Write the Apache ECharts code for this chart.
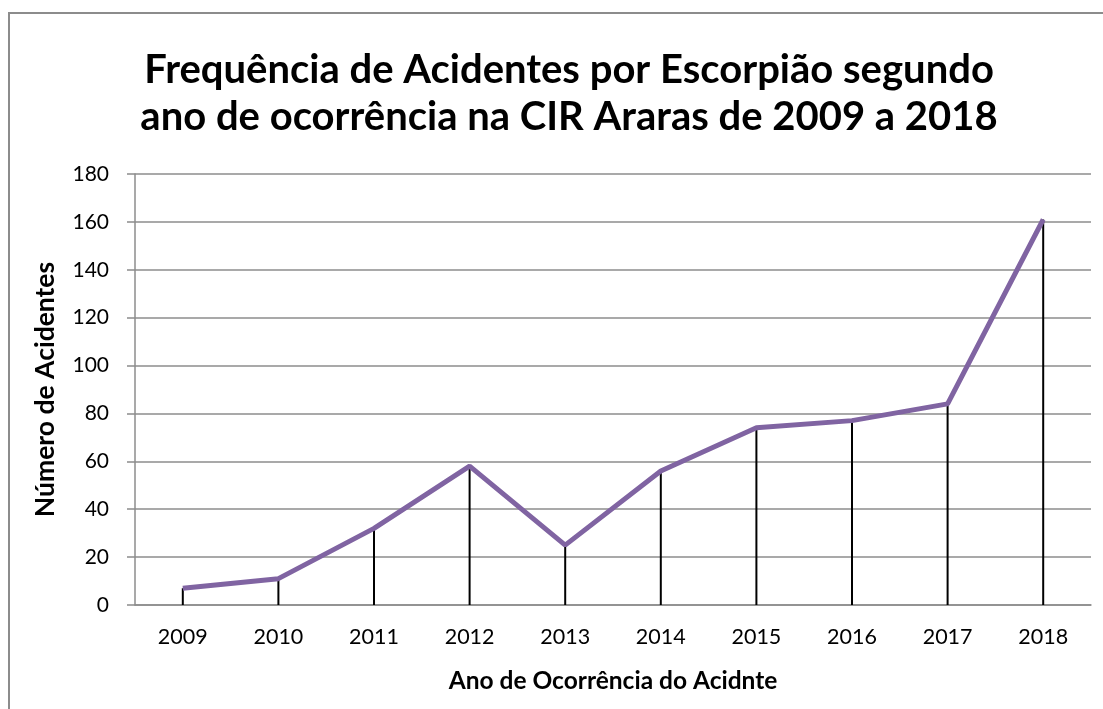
<!DOCTYPE html>
<html>
<head>
<meta charset="utf-8">
<script src="https://cdn.jsdelivr.net/npm/echarts@6/dist/echarts.min.js"></script>
<style>
html,body{margin:0;padding:0;background:#fff;}
#main{width:1103px;height:709px;}
</style>
</head>
<body>
<div id="main"></div>
<script>
const years = ['2009','2010','2011','2012','2013','2014','2015','2016','2017','2018'];
const accidents = [7, 11, 32, 58, 25, 56, 74, 77, 84, 161];
const yTicks = {min: 0, max: 180, interval: 20};
const titleText = 'Frequência de Acidentes por Escorpião segundo\nano de ocorrência na CIR Araras de 2009 a 2018';
const xName = 'Ano de Ocorrência do Acidnte';
const yName = 'Número de Acidentes';

const font = 'Lato, "Open Sans", sans-serif';
const chart = echarts.init(document.getElementById('main'), null, {renderer: 'canvas'});
chart.setOption({
  backgroundColor: '#ffffff',
  animation: false,
  title: {
    text: titleText,
    left: 564,
    textAlign: 'center',
    top: 42,
    textStyle: {fontFamily: font, fontWeight: 'bold', fontSize: 40, lineHeight: 47, color: '#000'}
  },
  graphic: [{
    type: 'rect',
    shape: {x: 9, y: 13, width: 1200, height: 800},
    style: {fill: 'none', stroke: '#8c8c8c', lineWidth: 2},
    silent: true
  }],
  grid: {left: 135, right: 12, top: 174, bottom: 104},
  xAxis: {
    type: 'category',
    data: years,
    boundaryGap: true,
    name: xName,
    nameLocation: 'middle',
    nameGap: 64,
    nameTextStyle: {fontFamily: font, fontWeight: 'bold', fontSize: 24.5, color: '#000'},
    axisLine: {lineStyle: {color: '#8c8c8c', width: 1.5}},
    axisTick: {show: false},
    axisLabel: {fontFamily: font, fontSize: 21.5, color: '#000', margin: 21},
    splitLine: {show: false}
  },
  yAxis: {
    type: 'value',
    min: yTicks.min, max: yTicks.max, interval: yTicks.interval,
    name: yName,
    nameLocation: 'middle',
    nameGap: 76,
    nameTextStyle: {fontFamily: font, fontWeight: 'bold', fontSize: 26.5, color: '#000'},
    axisLine: {show: true, lineStyle: {color: '#8c8c8c', width: 1.5}},
    axisTick: {show: true, inside: false, length: 8, lineStyle: {color: '#8c8c8c', width: 1.5}},
    axisLabel: {fontFamily: font, fontSize: 21, color: '#000', margin: 26},
    splitLine: {show: true, lineStyle: {color: '#8c8c8c', width: 1.5}}
  },
  series: [
    {
      type: 'bar',
      data: accidents,
      barWidth: 2,
      itemStyle: {color: '#000'},
      silent: true,
      z: 2
    },
    {
      type: 'line',
      data: accidents,
      symbol: 'none',
      lineStyle: {color: '#8064A2', width: 5},
      z: 3
    }
  ]
});
</script>
</body>
</html>
